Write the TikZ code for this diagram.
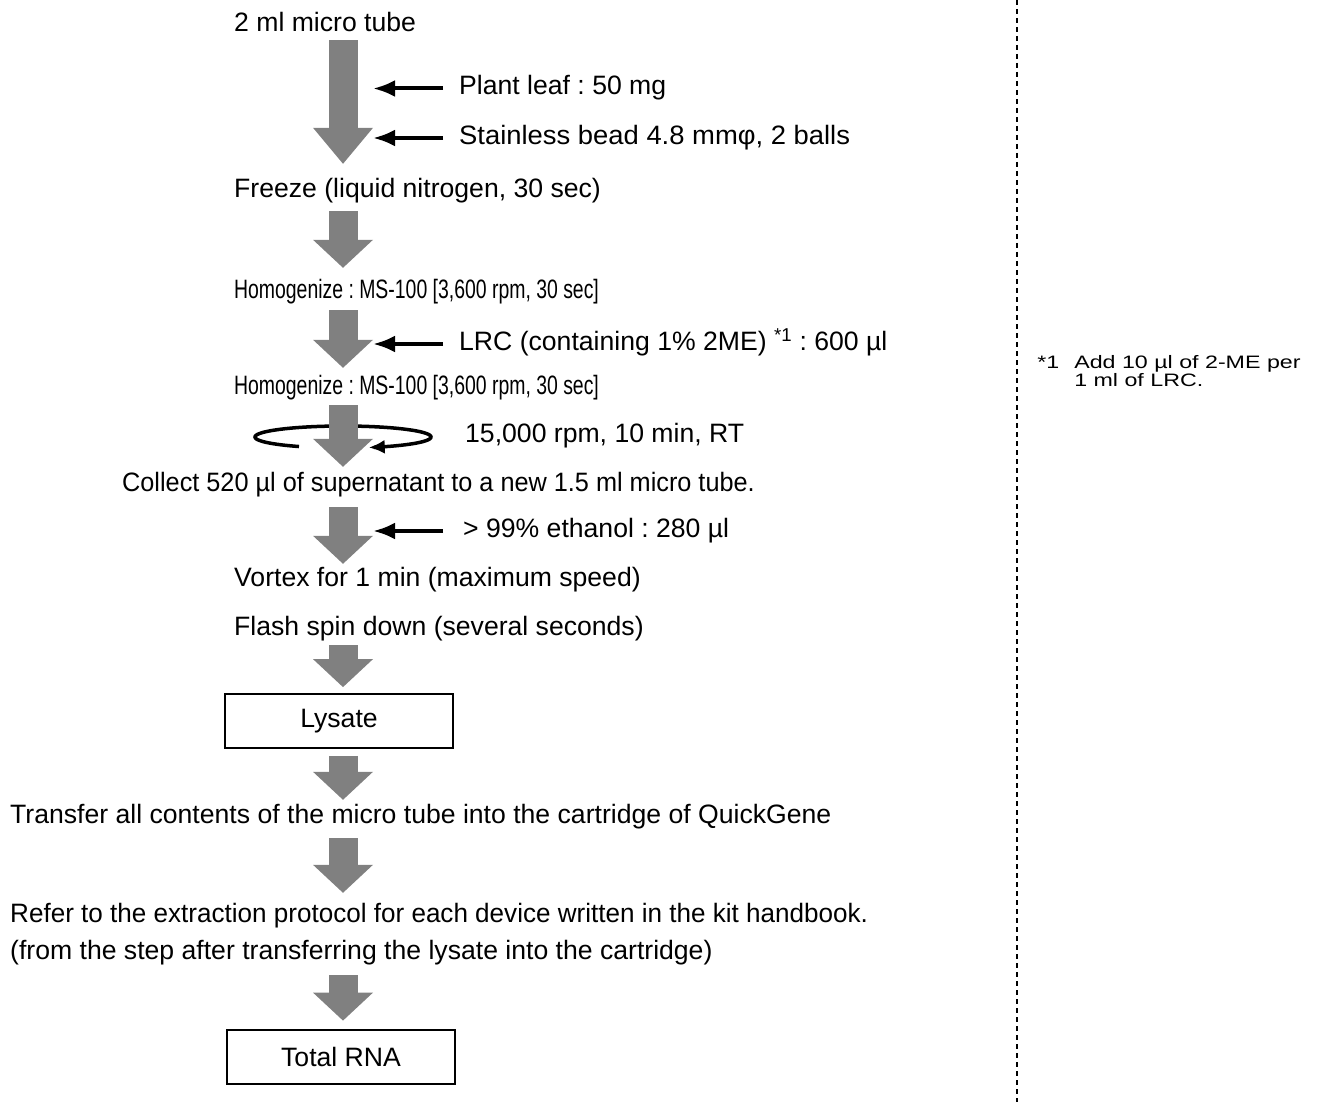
\documentclass[tikz,border=0pt]{standalone}
\usepackage{fontspec}
\setmainfont{Liberation Sans}
\usetikzlibrary{arrows.meta}
\definecolor{flowgray}{RGB}{128,128,128}
\frenchspacing
\newcommand{\widthresult}{228pt}
\newcommand{\heightresult}{54pt}
\newcommand{\spinrx}{88}
\newcommand{\spinry}{11}
\tikzset{
    txt/.style={anchor=base west, inner sep=0pt, text height=19pt, text depth=6pt},
    squeeze/.style={xscale=#1, transform shape},
    result/.style={draw, line width=1.8pt, minimum width=\widthresult, minimum height=\heightresult, inner sep=0pt},
    flow/.style={draw=flowgray, line width=29pt, -{Triangle[length=28pt, width=60pt, line width=0pt]}},
    feed/.style={line width=4pt, -{Latex[length=22pt, width=17pt]}, shorten <=16pt, shorten >=30pt},
    spin/.style={line width=3.5pt, -{Latex[length=16pt, width=14pt]}},
    note/.style={anchor=base west, inner sep=0pt, font=\fontsize{18}{16}\selectfont, squeeze=1.29},
    divider/.style={line width=1.3pt, dash pattern=on 5pt off 4pt}
}

\begin{document}
\begin{tikzpicture}[x=1pt, y=-1pt, font=\fontsize{26.6}{31}\selectfont]
    \useasboundingbox (0,0) rectangle (1320,1102);
    \coordinate (spine) at (343,0);

    % main column
    \node[txt] (tube) at (234,31.5) {2 ml micro tube};
    \node[txt] (freeze) at (234,197.5) {Freeze (liquid nitrogen, 30 sec)};
    \node[txt, squeeze=0.73] (homogA) at (234,298.5) {Homogenize : MS-100 [3,600 rpm, 30 sec]};
    \node[txt, squeeze=0.73] (homogB) at (234,394.5) {Homogenize : MS-100 [3,600 rpm, 30 sec]};
    \node[txt, squeeze=0.95] (collect) at (122,491.5) {Collect 520 µl of supernatant to a new 1.5 ml micro tube.};
    \node[txt] (vortex) at (234,586.5) {Vortex for 1 min (maximum speed)};
    \node[txt] (flash) at (234,635.5) {Flash spin down (several seconds)};
    \node[result] (lysate) at (339,721) {Lysate};
    \node[txt] (transfer) at (10,823.5) {Transfer all contents of the micro tube into the cartridge of QuickGene};
    \node[txt, squeeze=0.98] (refer) at (10,922.5) {Refer to the extraction protocol for each device written in the kit handbook.};
    \node[txt] (fromstep) at (10,959.5) {(from the step after transferring the lysate into the cartridge)};
    \node[result] (rna) at (341,1057) {Total RNA};

    % additions
    \node[txt] (leaf) at (459,95) {Plant leaf : 50 mg};
    \node[txt, squeeze=1.03] (bead) at (459,144.5) {Stainless bead 4.8 mmφ, 2 balls};
    \node[txt] (lrc) at (459,350.5) {LRC (containing 1\% 2ME) \textsuperscript{*1} : 600 µl};
    \node[txt] (rpm) at (465,442.5) {15,000 rpm, 10 min, RT};
    \node[txt] (ethanol) at (463,537.5) {> 99\% ethanol : 280 µl};

    % footnote
    \node[note] (mark1) at (1037,368) {*1};
    \node[note] (fnoteA) at (1074,368) {Add 10 µl of 2-ME per};
    \node[note] (fnoteB) at (1074,386.5) {1 ml of LRC.};
    \draw[divider] (1017,0) -- (1017,1102);

    \draw[spin] plot[domain=120:433, samples=90, variable=\t] ({343+\spinrx*cos(\t)}, {437+\spinry*sin(\t)});

    \draw[flow, -{Triangle[length=36pt, width=60pt, line width=0pt]}, shorten <=2.5pt, shorten >=14.5pt] (tube.south -| spine) -- (freeze.north -| spine);
    \draw[flow, shorten <=7.5pt, shorten >=11.5pt] (freeze.south -| spine) -- (homogA.north -| spine);
    \draw[flow, shorten <=5.5pt, shorten >=7.5pt] (homogA.south -| spine) -- (homogB.north -| spine);
    \draw[flow, shorten <=4.5pt, shorten >=5.5pt] (homogB.south -| spine) -- (collect.north -| spine);
    \draw[flow, shorten <=9.5pt, shorten >=3.5pt] (collect.south -| spine) -- (vortex.north -| spine);
    \draw[flow, shorten <=3.5pt, shorten >=6pt] (flash.south -| spine) -- (lysate.north -| spine);
    \draw[flow, shorten <=7pt, shorten >=4.5pt] (lysate.south -| spine) -- (transfer.north -| spine);
    \draw[flow, shorten <=8.5pt, shorten >=10.5pt] (transfer.south -| spine) -- (refer.north -| spine);
    \draw[flow, shorten <=9.5pt, shorten >=8.5pt] (fromstep.south -| spine) -- (rna.north -| spine);

    \draw[feed] (leaf.west) -- (leaf.west -| spine);
    \draw[feed] (bead.west) -- (bead.west -| spine);
    \draw[feed] (lrc.west) -- (lrc.west -| spine);
    \draw[feed, shorten <=20pt] (ethanol.west) -- (ethanol.west -| spine);
\end{tikzpicture}
\end{document}
